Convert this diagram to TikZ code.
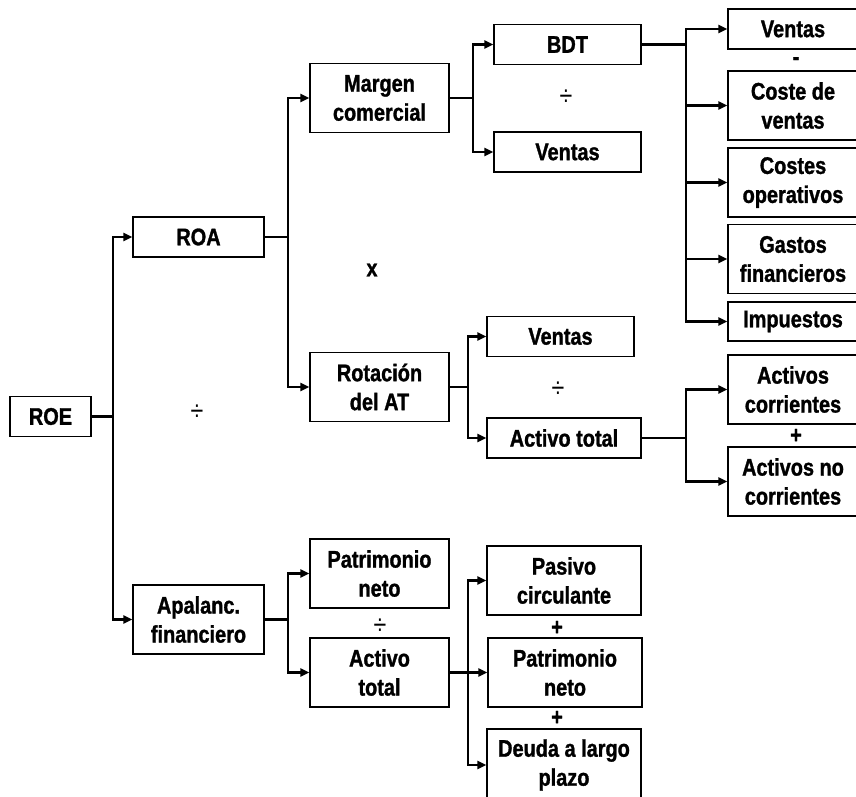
\documentclass[tikz,border=0pt]{standalone}
\usepackage{fontspec}
\setmainfont{Liberation Sans}[FakeStretch=0.83, BoldFeatures={FakeBold=1.2}]
\usetikzlibrary{arrows.meta}
\tikzset{
  box/.style={draw, line width=1.2pt, align=center, inner sep=0pt,
    font=\fontsize{24}{29}\selectfont\bfseries},
  sm/.style={box, minimum width=#1, minimum height=40pt},
  tall/.style={box, minimum width=#1, minimum height=69pt},
  sign/.style={inner sep=0pt, font=\fontsize{24}{29}\selectfont\bfseries},
  divsign/.style={inner sep=0pt, font=\fontsize{28}{30}\selectfont},
  conn/.style={line width=2.2pt, -{Triangle[length=9pt,width=8pt]}}
}
\begin{document}
\begin{tikzpicture}[x=1pt, y=-1pt]
      \useasboundingbox (0,0) rectangle (856,796);
      \draw
        (50.5,416.5) node[sm=81pt] (roe){ROE}
        (198.5,237) node[sm=131pt] (roa){ROA}
        (198.5,619.5) node[tall=131pt] (apal){Apalanc.\\financiero}
        (379.5,98) node[tall=139pt] (margen){Margen\\comercial}
        (379.5,387) node[tall=139pt] (rotacion){Rotación\\del AT}
        (379.5,573.5) node[tall=139pt] (patrimonio){Patrimonio\\neto}
        (379.5,672.5) node[tall=139pt] (activo){Activo\\total}
        (567.5,44.5) node[sm=147pt] (bdt){BDT}
        (567.5,152) node[sm=147pt] (ventasM){Ventas}
        (560.5,336.5) node[sm=147pt] (ventasR){Ventas}
        (564,438) node[sm=154pt] (activoT){Activo total}
        (564,580.5) node[tall=154pt] (pasivo){Pasivo\\circulante}
        (565,672.5) node[tall=154pt] (patrimonioB){Patrimonio\\neto}
        (564,765) node[tall=154pt, minimum height=72pt] (deuda){Deuda a largo\\plazo}
        (793,29) node[sm=130pt] (ventasD){Ventas}
        (793,105.5) node[tall=130pt] (coste){Coste de\\ventas}
        (793,182.5) node[tall=130pt] (costes){Costes\\operativos}
        (793,259) node[tall=130pt] (gastos){Gastos\\financieros}
        (793,321.5) node[sm=130pt, minimum height=39pt] (impuestos){Impuestos}
        (793,389.5) node[tall=130pt] (corr){Activos\\corrientes}
        (793,481.5) node[tall=130pt] (nocorr){Activos no\\corrientes};
      % operators
      \node[divsign] (d1) at (197,413) {÷};
      \node[sign] (m1) at (372,270) {x};
      \node[divsign] (d2) at (566,98) {÷};
      \node[divsign] (d3) at (558,390) {÷};
      \node[divsign] (d4) at (380,627) {÷};
      \node[sign] (s1) at (796,61) {-};
      \node[sign] (p1) at (796,436) {+};
      \node[sign] (p2) at (557,628) {+};
      \node[sign] (p3) at (557,718) {+};
      \begin{scope}[conn]
        \draw (roe.east) -- ++(21,0) |- (roa.west);
        \draw (roe.east) -- ++(21,0) |- (apal.west);
        \draw (roa.east) -- ++(23,0) |- (margen.west);
        \draw (roa.east) -- ++(23,0) |- (rotacion.west);
        \draw (apal.east) -- ++(23,0) |- (patrimonio.west);
        \draw (apal.east) -- ++(23,0) |- (activo.west);
        \draw (margen.east) -- ++(23,0) |- (bdt.west);
        \draw (margen.east) -- ++(23,0) |- (ventasM.west);
        \draw (rotacion.east) -- ++(18,0) |- (ventasR.west);
        \draw (rotacion.east) -- ++(18,0) |- (activoT.west);
        \draw (activo.east) -- ++(18,0) |- (pasivo.west);
        \draw (activo.east) -- ++(18,0) |- (patrimonioB.west);
        \draw (activo.east) -- ++(18,0) |- (deuda.west);
        \draw (bdt.east) -- ++(44,0) |- (ventasD.west);
        \draw (bdt.east) -- ++(44,0) |- (coste.west);
        \draw (bdt.east) -- ++(44,0) |- (costes.west);
        \draw (bdt.east) -- ++(44,0) |- (gastos.west);
        \draw (bdt.east) -- ++(44,0) |- (impuestos.west);
        \draw (activoT.east) -- ++(44,0) |- (corr.west);
        \draw (activoT.east) -- ++(44,0) |- (nocorr.west);
      \end{scope}
    \end{tikzpicture}
\end{document}
